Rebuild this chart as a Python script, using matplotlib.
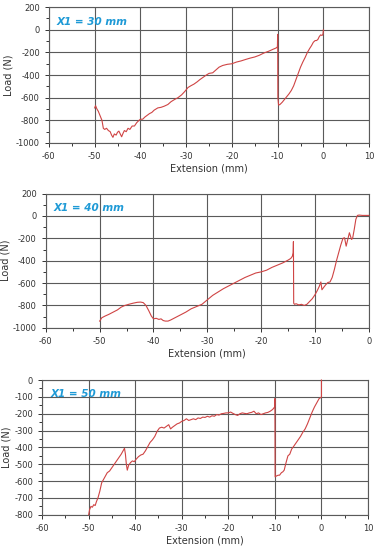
import matplotlib
matplotlib.use('Agg')
import matplotlib.pyplot as plt
from matplotlib.ticker import MultipleLocator

plt.rcParams['font.family'] = ['DejaVu Sans']
plt.rcParams['axes.unicode_minus'] = False

# X1 = 30 mm
ext30 = [-50, -49.8, -49.5, -49.2, -49, -48.7, -48.4, -48.1, -47.8, -47.4, -47, -46.6, -46.3, -46, -45.7,
         -45.3, -45, -44.7, -44.4, -44.1, -43.8, -43.5, -43.1, -42.7, -42.3, -41.8, -41.3, -40.8, -40.3, -40,
         -39.5, -39, -38.5, -38, -37.5, -37, -36.2, -35.5, -34.8, -34, -33.3, -32.5, -31.8, -31, -30.3, -29.6,
         -29, -28.3, -27.6, -27, -26.3, -25.6, -25, -24.2, -23.5, -22.8, -22, -21, -20, -19, -18, -17, -16,
         -15, -14, -13, -12, -11, -10.3, -10.05, -10, -9.95, -9.8, -9.5, -9, -8.5, -8, -7.5, -7, -6.5, -6,
         -5.5, -5, -4.5, -4, -3.5, -3, -2.6, -2.2, -1.8, -1.5, -1.2, -0.9, -0.6, -0.3, -0.1, 0]
load30 = [-690, -670, -700, -720, -740, -770, -800, -870, -880, -870, -890, -900, -930, -950, -920,
          -930, -905, -895, -920, -945, -915, -890, -900, -870, -880, -850, -850, -820, -800, -790,
          -790, -770, -755, -740, -730, -710, -690, -685, -675, -660, -635, -615, -600, -575, -545, -510,
          -495, -480, -460, -440, -420, -400, -385, -380, -355, -330, -315, -305, -300, -285, -275, -262, -250,
          -240, -225, -205, -190, -172, -160, -150, -40, -600, -665, -660, -640, -615, -590, -565, -535, -495, -440,
          -385, -330, -285, -245, -200, -165, -140, -110, -95, -95, -85, -60, -45, -50, -40, 0]

# X1 = 40 mm
ext40 = [-50, -49.6, -49, -48.3, -47.5, -46.7, -46, -45.3, -44.6, -43.8, -43, -42.4, -41.9, -41.4, -40.9,
         -40.4, -40, -39.5, -39, -38.6, -38.2, -37.8, -37.3, -36.8, -36, -35, -34, -33, -32, -31, -30, -29,
         -28, -27, -26, -25, -24, -23, -22, -21, -20, -19, -18, -17, -16, -15, -14.5, -14.2, -14.05, -14,
         -13.95, -13.8, -13.5, -13, -12.5, -12, -11.5, -11, -10.5, -10, -9.6, -9.2, -8.9, -8.7, -8.4, -8,
         -7.6, -7.2, -6.8, -6.4, -6, -5.6, -5.2, -4.8, -4.5, -4.2, -3.9, -3.6, -3.4, -3.2, -3, -2.7, -2.4,
         -2.1, -1.8, -1.2, -0.6, 0]
load40 = [-940, -910, -895, -880, -860, -840, -815, -800, -790, -780, -772, -770, -775, -800, -845,
          -895, -920, -915, -925, -920, -935, -940, -940, -930, -910, -885, -860, -830, -810, -790, -750, -710,
          -680, -650, -625, -600, -575, -550, -530, -510, -500, -485, -460, -440, -420, -395, -380, -360, -330, -230,
          -780, -790, -785, -795, -790, -800, -790, -765, -740, -705, -670, -630, -590, -660, -640, -615,
          -595, -590, -550, -480, -400, -330, -260, -200, -195, -270, -210, -150, -180, -210, -200, -120, -30,
          5, 8, 5, 5, 5]

# X1 = 50 mm
ext50 = [-50, -49.8, -49.5, -49.2, -48.9, -48.6, -48.3, -48, -47.6, -47.2, -46.8, -46.4, -46, -45.5, -45,
         -44.5, -44, -43.5, -43, -42.6, -42.3, -42.1, -41.9, -41.7, -41.4, -41, -40.6, -40.2, -39.8, -39.3,
         -38.8, -38.3, -37.8, -37.3, -36.8, -36.3, -35.8, -35.3, -34.8, -34.3, -33.8, -33.3, -32.8, -32.4,
         -32, -31.5, -31, -30.5, -30, -29.5, -29, -28.5, -28, -27.5, -27, -26.5, -26, -25.5, -25, -24.5,
         -24, -23.5, -23, -22.5, -22, -21.5, -21, -20.5, -20, -19.5, -19, -18.5, -18, -17.5, -17, -16.5,
         -16, -15.5, -15, -14.5, -14, -13.5, -13, -12.5, -12, -11.5, -11, -10.5, -10.2, -10.05, -10, -9.95,
         -9.7, -9.3, -9, -8.6, -8.3, -8, -7.6, -7.2, -6.8, -6.4, -6, -5.5, -5, -4.5, -4, -3.5, -3, -2.5,
         -2, -1.5, -1, -0.5, -0.2, 0, 0]
load50 = [-800, -770, -750, -755, -740, -745, -720, -700, -660, -610, -590, -570, -550, -540, -520,
          -500, -480, -460, -440, -420, -405, -440, -500, -535, -505, -490, -480, -485, -470, -455,
          -445, -440, -420, -395, -370, -355, -335, -305, -285, -280, -285, -275, -265, -290,
          -280, -270, -260, -255, -245, -240, -230, -240, -235, -230, -235, -225, -228, -220, -222, -215,
          -220, -212, -215, -205, -208, -200, -198, -195, -195, -190, -198, -205, -210, -200, -195, -198,
          -200, -195, -192, -185, -200, -195, -205, -200, -195, -192, -185, -175, -165, -160, -110, -575,
          -570, -565, -565, -550, -545, -535, -490, -450, -440, -410, -395, -375, -355, -335, -310, -290, -260, -225,
          -190, -160, -135, -110, -105, -100, 0]

panels = [
    ('X1 = 30 mm', ext30, load30, (-60, 10), (-1000, 200), 200, [0.129, 0.740, 0.845, 0.247]),
    ('X1 = 40 mm', ext40, load40, (-60, 0), (-1000, 200), 200, [0.121, 0.404, 0.852, 0.244]),
    ('X1 = 50 mm', ext50, load50, (-60, 10), (-800, 0), 100, [0.111, 0.064, 0.860, 0.245]),
]

fig = plt.figure(figsize=(3.79, 5.5), dpi=100)
fig.patch.set_facecolor('white')

for title, x, y, xlim, ylim, ystep, pos in panels:
    ax = fig.add_axes(pos)
    ax.set_axisbelow(True)
    ax.plot(x, y, color='#cf4444', linewidth=0.8, zorder=3, clip_on=False)
    ax.set_xlim(*xlim)
    ax.set_ylim(*ylim)
    ax.xaxis.set_major_locator(MultipleLocator(10))
    ax.xaxis.set_minor_locator(MultipleLocator(5))
    ax.yaxis.set_major_locator(MultipleLocator(ystep))
    ax.yaxis.set_minor_locator(MultipleLocator(ystep / 2))
    ax.grid(True, which='major', color='#5a5a5a', linewidth=0.8)
    for s in ax.spines.values():
        s.set_color('#5a5a5a')
        s.set_linewidth(0.8)
    ax.tick_params(which='both', direction='out', labelsize=6, colors='#333333', width=0.7)
    ax.tick_params(which='major', length=3)
    ax.tick_params(which='minor', length=2)
    ax.set_xlabel('Extension (mm)', fontsize=7, color='#333333', labelpad=2)
    ax.set_ylabel('Load (N)', fontsize=7, color='#333333', labelpad=2)
    ax.text(0.025, 0.93, title, transform=ax.transAxes, fontsize=7.5, fontweight='bold',
            fontstyle='italic', color='#1f9ad6', va='top', ha='left')

fig.savefig('out.png', dpi=100)
